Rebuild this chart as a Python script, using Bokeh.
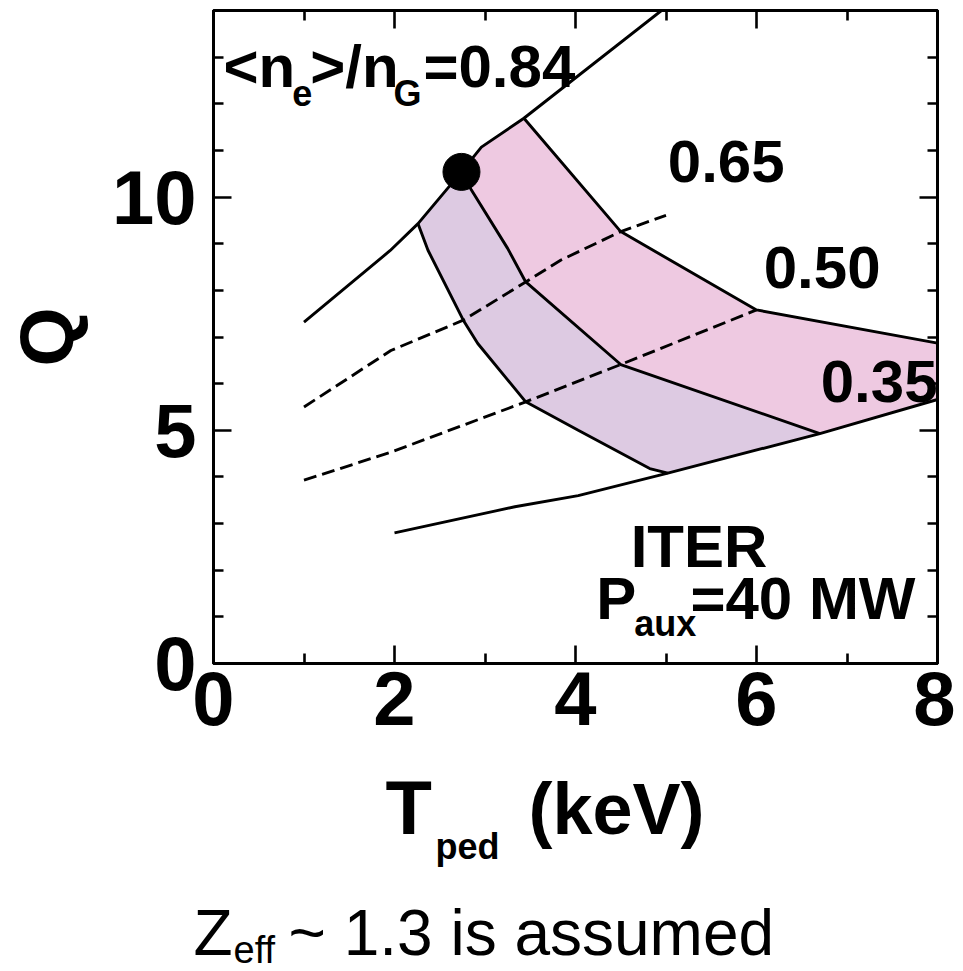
import math
from bokeh.plotting import figure
from bokeh.layouts import column
from bokeh.models import Label, LinearAxis, FixedTicker, Range1d
from bokeh.core.properties import value
from bokeh.embed import file_html
from bokeh.resources import INLINE

# ---- data (T_ped in keV, Q) ----
n084_T = [1.0, 1.95, 2.26, 2.74, 2.96, 3.43, 4.95]
n084_Q = [7.32, 8.85, 9.43, 10.54, 11.07, 11.69, 14.0]
n065_T = [1.0, 1.96, 2.76, 3.45, 3.84, 4.5, 5.0]
n065_Q = [5.5, 6.71, 7.36, 8.18, 8.65, 9.26, 9.61]
n050_T = [1.0, 1.96, 3.45, 4.5, 6.0]
n050_Q = [3.93, 4.53, 5.61, 6.41, 7.58]
n035_T = [2.0, 3.33, 4.03, 5.02, 6.7, 8.0]
n035_Q = [2.8, 3.36, 3.6, 4.08, 4.93, 5.66]
left_T = [2.26, 2.37, 2.76, 2.92, 3.45, 4.03, 4.82, 5.02]
left_Q = [9.43, 8.86, 7.36, 6.86, 5.61, 5.0, 4.18, 4.08]
mid_T = [2.74, 2.85, 3.25, 3.45, 4.5, 6.7]
mid_Q = [10.54, 10.15, 8.9, 8.18, 6.41, 4.93]
right_T = [3.43, 4.5, 6.0, 8.0]
right_Q = [11.69, 9.26, 7.58, 6.87]
dot_T = [2.74]
dot_Q = [10.54]

x_ticks = [0, 2, 4, 6, 8]
x_minor = [1, 3, 5, 7]
y_ticks = [0, 5, 10]
y_minor = [1, 2, 3, 4, 6, 7, 8, 9, 11, 12, 13]

FONT = "Liberation Sans"

p = figure(width=955, height=760, x_range=Range1d(0, 8), y_range=Range1d(0, 14),
           output_backend="svg", toolbar_location=None,
           min_border_left=212, min_border_right=18, min_border_top=10, min_border_bottom=97)
p.frame_align = False
p.xgrid.visible = False
p.ygrid.visible = False
p.outline_line_color = "black"
p.outline_line_width = 3
p.background_fill_color = "white"
p.border_fill_color = "white"

def style_axis(ax, show_labels, standoff):
    ax.axis_line_width = 3
    ax.axis_line_color = "black"
    ax.major_tick_in = 18
    ax.major_tick_out = 0
    ax.minor_tick_in = 10
    ax.minor_tick_out = 0
    ax.major_tick_line_width = 2.6
    ax.minor_tick_line_width = 2.6
    ax.major_tick_line_color = "black"
    ax.minor_tick_line_color = "black"
    if show_labels:
        ax.major_label_text_font = FONT
        ax.major_label_text_font_size = "76px"
        ax.major_label_text_font_style = "bold"
        ax.major_label_text_color = "black"
        ax.major_label_standoff = standoff
    else:
        ax.major_label_text_font_size = "0px"
        ax.major_label_text_color = None
        ax.major_label_standoff = 0

p.xaxis.ticker = FixedTicker(ticks=x_ticks, minor_ticks=x_minor)
p.yaxis.ticker = FixedTicker(ticks=y_ticks, minor_ticks=y_minor)
style_axis(p.xaxis[0], True, 8)
style_axis(p.yaxis[0], True, 17)
p.yaxis.axis_label = "Q"
p.yaxis.axis_label_text_font = FONT
p.yaxis.axis_label_text_font_size = "76px"
p.yaxis.axis_label_text_font_style = "bold"
p.yaxis.axis_label_text_color = "black"
p.yaxis.axis_label_standoff = 20

top_ax = LinearAxis(ticker=FixedTicker(ticks=x_ticks, minor_ticks=x_minor))
right_ax = LinearAxis(ticker=FixedTicker(ticks=y_ticks, minor_ticks=y_minor))
style_axis(top_ax, False, 0)
style_axis(right_ax, False, 0)
p.add_layout(top_ax, "above")
p.add_layout(right_ax, "right")

# ---- shaded regions built from the boundary curves ----
pink_T = n084_T[3:6] + right_T[1:] + [n035_T[5], n035_T[4]] + mid_T[:-1][::-1]
pink_Q = n084_Q[3:6] + right_Q[1:] + [n035_Q[5], n035_Q[4]] + mid_Q[:-1][::-1]
purple_T = n084_T[2:4] + mid_T[1:] + [n035_T[3]] + left_T[::-1]
purple_Q = n084_Q[2:4] + mid_Q[1:] + [n035_Q[3]] + left_Q[::-1]

p.patch(pink_T, pink_Q, fill_color="#EEC9E1", line_color=None)
p.patch(purple_T, purple_Q, fill_color="#DDCAE2", line_color=None)

LW = 2.9
DASH = "13 6"
p.line(n084_T, n084_Q, line_color="black", line_width=LW)
p.line(n065_T, n065_Q, line_color="black", line_width=LW, line_dash=DASH)
p.line(n050_T, n050_Q, line_color="black", line_width=LW, line_dash=DASH)
p.line(n035_T, n035_Q, line_color="black", line_width=LW)
p.line(left_T, left_Q, line_color="black", line_width=LW)
p.line(mid_T, mid_Q, line_color="black", line_width=LW)
p.line(right_T, right_Q, line_color="black", line_width=LW)
p.scatter(dot_T, dot_Q, size=37, fill_color="black", line_color="black")

def lab(x, y, text, size, bold=True):
    p.add_layout(Label(x=x, y=y, text=text, text_font=FONT, text_font_size=size,
                       text_font_style="bold" if bold else "normal", text_color="black",
                       text_align="left", text_baseline="middle"))

# in-plot labels
lab(0.11, 12.80, "<n", "60px")
lab(0.87, 12.23, "e", "36px")
lab(1.07, 12.80, ">/n", "60px")
lab(1.99, 12.23, "G", "36px")
lab(2.32, 12.80, "=0.84", "60px")
lab(5.02, 10.77, "0.65", "60px")
lab(6.08, 8.50, "0.50", "60px")
lab(6.71, 6.04, "0.35", "60px")
lab(4.61, 2.51, "ITER", "60px")
lab(4.23, 1.40, "P", "60px")
lab(4.65, 0.86, "aux", "36px")
lab(5.27, 1.40, "=40 MW", "60px")

# ---- text strip under the plot: axis title and footnote ----
q = figure(width=955, height=211, x_range=Range1d(0, 955), y_range=Range1d(211, 0),
           output_backend="svg", toolbar_location=None,
           x_axis_location=None, y_axis_location=None,
           min_border_left=0, min_border_right=0, min_border_top=0, min_border_bottom=0)
q.frame_align = False
q.xgrid.visible = False
q.ygrid.visible = False
q.outline_line_color = None
q.background_fill_color = "white"
q.border_fill_color = "white"

title_x = [385, 435, 528]
title_y = [47.0, 85.5, 48.5]
title_txt = ["T", "ped", "(keV)"]
title_size = ["76px", "36px", "72px"]
for tx, ty, tt, ts in zip(title_x, title_y, title_txt, title_size):
    q.text(x=[tx], y=[ty], text=[tt], text_font=value(FONT), text_font_size=value(ts),
           text_font_style="bold", text_color="black", text_align="left", text_baseline="middle")

note_x = [193, 233, 288]
note_y = [172.0, 189.0, 172.0]
note_txt = ["Z", "eff", "~ 1.3 is assumed"]
note_size = ["64px", "38px", "64px"]
for tx, ty, tt, ts in zip(note_x, note_y, note_txt, note_size):
    q.text(x=[tx], y=[ty], text=[tt], text_font=value(FONT), text_font_size=value(ts),
           text_font_style="normal", text_color="black", text_align="left", text_baseline="middle")

layout = column(p, q, spacing=0)
open("out.html", "w").write(file_html(layout, INLINE))
